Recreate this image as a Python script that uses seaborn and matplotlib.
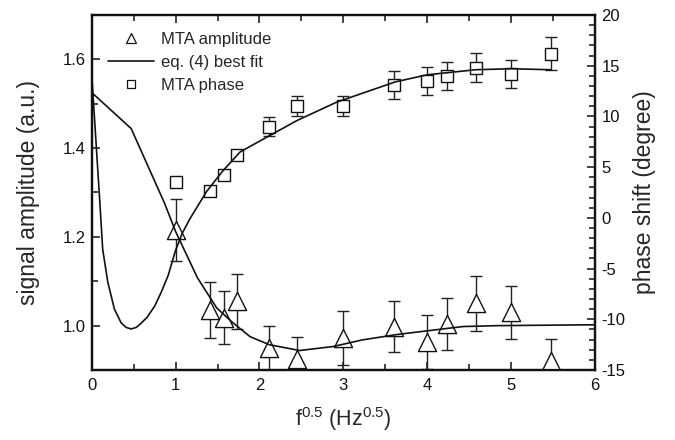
"""MTA amplitude / phase vs sqrt(f) with best-fit curves
"""

import matplotlib.pyplot as plt  # type: ignore
import seaborn as sns  # type: ignore
from matplotlib.lines import Line2D  # type: ignore
from matplotlib.ticker import MultipleLocator  # type: ignore

# measured points (x = f^0.5)
x_meas = [1.0, 1.41, 1.58, 1.73, 2.12, 2.45, 3.0, 3.6, 4.0, 4.24, 4.58, 5.0, 5.48]
amp = [1.215, 1.036, 1.018, 1.055, 0.950, 0.925, 0.972, 0.998, 0.963, 1.004, 1.050, 1.030, 0.920]
amp_err = [0.07, 0.063, 0.06, 0.062, 0.05, 0.05, 0.06, 0.058, 0.06, 0.058, 0.062, 0.06, 0.05]
phase = [3.5, 2.6, 4.2, 6.2, 9.0, 11.0, 11.0, 13.1, 13.5, 14.0, 14.8, 14.2, 16.2]
phase_err = [0.3, 0.3, 0.3, 0.3, 0.9, 1.0, 1.0, 1.35, 1.35, 1.4, 1.45, 1.4, 1.65]

# eq. (4) best fit, amplitude (left axis)
x_fit_amp = [0.0, 0.47, 0.87, 1.0, 1.26, 1.49, 1.68, 1.89, 2.12,
             2.48, 2.88, 3.23, 3.64, 4.03, 4.43, 4.83, 5.4, 6.0]
fit_amp = [1.525, 1.444, 1.275, 1.212, 1.108, 1.040, 1.007, 0.975, 0.957,
           0.944, 0.953, 0.968, 0.980, 0.989, 0.998, 1.000, 1.001, 1.002]

# eq. (4) best fit, phase (right axis)
x_fit_ph = [0.0, 0.05, 0.1, 0.13, 0.19, 0.27, 0.35, 0.41, 0.47, 0.53, 0.58, 0.66,
            0.75, 0.83, 0.91, 1.0, 1.08, 1.17, 1.37, 1.56, 1.77, 2.12, 2.45,
            2.92, 3.62, 4.0, 4.58, 5.0, 5.48]
fit_ph = [14.0, 7.5, 1.0, -3.1, -6.3, -9.0, -10.35, -10.8, -10.95, -10.8, -10.45, -9.8,
          -8.7, -7.3, -5.7, -3.2, -1.5, -0.1, 2.6, 4.6, 6.5, 8.1, 9.6,
          11.4, 13.4, 14.1, 14.6, 14.7, 14.6]

sns.set_style("ticks")
plt.rcParams["font.family"] = ["Liberation Sans", "DejaVu Sans"]
plt.rcParams["mathtext.fontset"] = "custom"
plt.rcParams["mathtext.rm"] = "Liberation Sans"
plt.rcParams["mathtext.it"] = "Liberation Sans:italic"
plt.rcParams["axes.unicode_minus"] = False
plt.rcParams["xtick.direction"] = "in"
plt.rcParams["ytick.direction"] = "in"

fig, ax = plt.subplots(figsize=(6.75, 4.4), dpi=100)
fig.subplots_adjust(left=0.136, right=0.881, bottom=0.159, top=0.966)
ax2 = ax.twinx()

ink = "#111111"

# amplitude
ax.errorbar(x_meas, amp, yerr=amp_err, fmt="none", ecolor="#222222",
            elinewidth=1.0, capsize=4, capthick=1.0, zorder=2)
sns.scatterplot(x=x_meas, y=amp, marker="^", s=170, facecolor="white",
                edgecolor=ink, linewidth=1.0, ax=ax, zorder=3)
sns.lineplot(x=x_fit_amp, y=fit_amp, color=ink, linewidth=1.2, ax=ax,
             estimator=None, sort=False, zorder=4)

# phase
ax2.errorbar(x_meas, phase, yerr=phase_err, fmt="none", ecolor="#222222",
             elinewidth=1.0, capsize=4, capthick=1.0, zorder=2)
sns.scatterplot(x=x_meas, y=phase, marker="s", s=80, facecolor="white",
                edgecolor=ink, linewidth=1.0, ax=ax2, zorder=3)
sns.lineplot(x=x_fit_ph, y=fit_ph, color=ink, linewidth=1.2, ax=ax2,
             estimator=None, sort=False, zorder=4)

ax.set_xlim(0, 6)
ax.set_ylim(0.9, 1.7)
ax2.set_ylim(-15, 20)

ax.xaxis.set_major_locator(MultipleLocator(1))
ax.xaxis.set_minor_locator(MultipleLocator(0.5))
ax.set_yticks([1.0, 1.2, 1.4, 1.6])
ax.yaxis.set_minor_locator(MultipleLocator(0.1))
ax2.yaxis.set_major_locator(MultipleLocator(5))
ax2.yaxis.set_minor_locator(MultipleLocator(1))

ax.tick_params(axis="x", which="both", top=True, bottom=True, direction="in")
ax.tick_params(axis="y", which="both", left=True, right=False, direction="in")
ax2.tick_params(axis="y", which="both", right=True, left=False, direction="in")
for a in (ax, ax2):
    a.tick_params(which="major", length=6, width=1.1, color=ink,
                  labelsize=12, labelcolor=ink)
    a.tick_params(which="minor", length=4, width=1.1, color=ink)
ax.tick_params(axis="x", which="major", pad=6)
ax.tick_params(axis="y", which="major", pad=4)
ax2.tick_params(axis="y", which="major", pad=5)

for a in (ax, ax2):
    for sp in a.spines.values():
        sp.set_visible(True)
        sp.set_linewidth(1.6)
        sp.set_color(ink)

ax.set_xlabel("f$^{0.5}$ (Hz$^{0.5}$)", fontsize=15.5)
ax.xaxis.set_label_coords(0.5, -0.1)
ax.set_ylabel("signal amplitude (a.u.)", fontsize=16.5)
ax.yaxis.set_label_coords(-0.103, 0.5)
ax2.set_ylabel("phase shift (degree)", fontsize=16.5, rotation=90)
ax2.yaxis.set_label_coords(1.076, 0.5)

handles = [
    Line2D([], [], marker="^", linestyle="none", markersize=7,
           markerfacecolor="white", markeredgecolor=ink, markeredgewidth=0.9),
    Line2D([], [], color=ink, linewidth=1.2),
    Line2D([], [], marker="s", linestyle="none", markersize=5.5,
           markerfacecolor="white", markeredgecolor=ink, markeredgewidth=0.9),
]
labels = ["MTA amplitude", "eq. (4) best fit", "MTA phase"]
ax2.legend(handles, labels, loc="upper left", bbox_to_anchor=(0.0, 1.0),
           frameon=False, fontsize=12, handlelength=2.75, handletextpad=0.4,
           labelspacing=0.5, borderaxespad=0.6)

plt.savefig("out.png", dpi=100)
plt.close()
